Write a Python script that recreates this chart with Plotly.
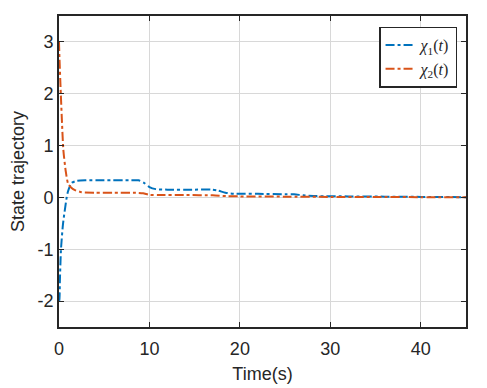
import plotly.graph_objects as go

t_vals = [0, 0.03, 0.1, 0.22, 0.45, 0.85, 1.0, 1.4, 1.95, 3, 5, 8, 8.8, 9.4, 10.0, 10.7, 12, 15, 16.8, 17.6, 18.4, 19.5, 22, 25, 26.0, 27.0, 28.5, 32, 36, 40, 45]
x1_vals = [-2.0, -2.0, -1.6, -1.0, -0.5, 0.0, 0.12, 0.28, 0.32, 0.33, 0.33, 0.33, 0.33, 0.28, 0.2, 0.16, 0.15, 0.15, 0.15, 0.13, 0.09, 0.07, 0.07, 0.06, 0.06, 0.04, 0.025, 0.02, 0.015, 0.01, 0.005]

t2_vals = [0, 0.05, 0.2, 0.48, 0.75, 1.0, 1.4, 1.77, 2.5, 4, 6, 8.5, 9.3, 10.0, 11, 14, 17, 18.5, 20, 25, 30, 35, 40, 45]
x2_vals = [3.0, 2.7, 2.0, 0.92, 0.5, 0.27, 0.18, 0.14, 0.1, 0.09, 0.09, 0.09, 0.08, 0.05, 0.045, 0.045, 0.04, 0.025, 0.02, 0.015, 0.01, 0.008, 0.005, 0.002]

x_ticks = [0, 10, 20, 30, 40]
x_tick_labels = ["0", "10", "20", "30", "40"]
y_ticks = [-2, -1, 0, 1, 2, 3]
y_tick_labels = ["-2", "-1", "0", "1", "2", "3"]

FONT = "Liberation Sans, Arial, Helvetica"
TXT = "#262626"

fig = go.Figure()
fig.add_trace(go.Scatter(x=t_vals, y=x1_vals, mode="lines",
                         line=dict(color="#0072BD", width=2, dash="dashdot", shape="spline", smoothing=0.6),
                         name="<i>χ</i><sub>1</sub>(<i>t</i>)"))
fig.add_trace(go.Scatter(x=t2_vals, y=x2_vals, mode="lines",
                         line=dict(color="#D95319", width=2, dash="dashdot", shape="spline", smoothing=0.6),
                         name="<i>χ</i><sub>2</sub>(<i>t</i>)"))

axis_common = dict(showline=True, linecolor=TXT, linewidth=1.8, mirror="ticks",
                   ticks="inside", ticklen=5, tickcolor=TXT, automargin=False,
                   showgrid=True, gridcolor="#D8D8D8", gridwidth=1.3, zeroline=False,
                   tickfont=dict(family=FONT, size=18, color=TXT))

fig.update_xaxes(range=[0, 45], tickvals=x_ticks, ticktext=x_tick_labels, ticklabelstandoff=4,
                 title=dict(text="Time(s)", font=dict(family=FONT, size=18, color=TXT), standoff=10),
                 **axis_common)
fig.update_yaxes(range=[-2.5, 3.5], tickvals=y_ticks, ticktext=y_tick_labels,
                 title=dict(text="State trajectory", font=dict(family=FONT, size=18, color=TXT), standoff=8),
                 **axis_common)

fig.update_layout(
    width=487, height=388,
    margin=dict(l=59, r=21, t=16, b=61),
    paper_bgcolor="white", plot_bgcolor="white",
    showlegend=True,
    legend=dict(x=0.978, y=0.966, xanchor="right", yanchor="top",
                bgcolor="white", bordercolor=TXT, borderwidth=1.5,
                font=dict(family="Liberation Serif, Times New Roman", size=16, color=TXT),
                tracegroupgap=0, itemwidth=30),
)

fig.write_html("out.html", config={"displayModeBar": False},
               post_script="document.body.style.margin='0px';document.body.style.overflow='hidden';")
